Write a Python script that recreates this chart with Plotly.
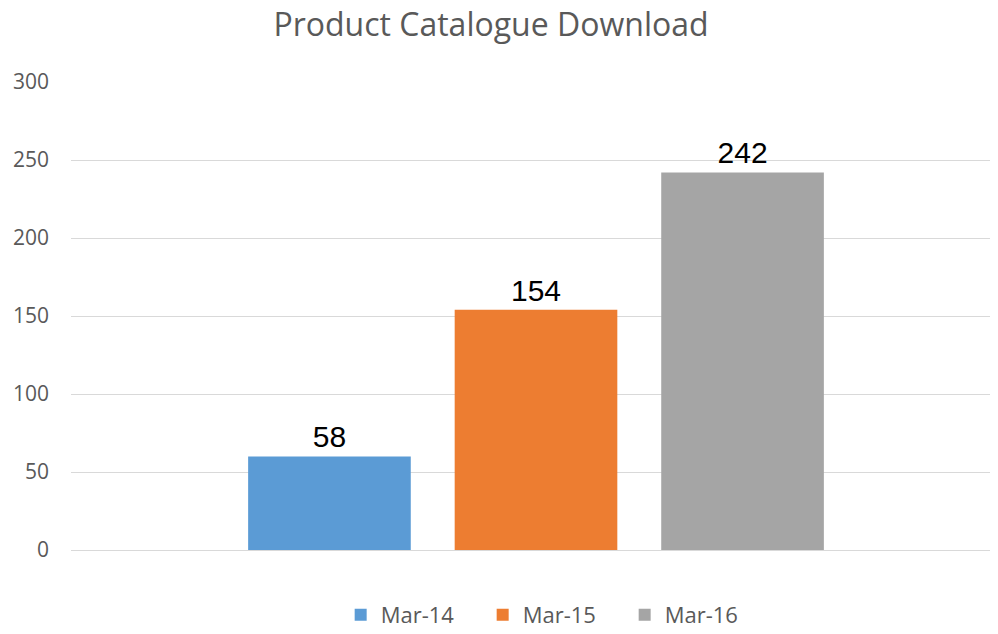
import plotly.graph_objects as go

# Data
periods = ["Mar-14", "Mar-15", "Mar-16"]
downloads = [60, 154, 242]          # bar heights as drawn
label_text = ["58", "154", "242"]   # data labels as printed
colors = ["#5B9BD5", "#ED7D31", "#A5A5A5"]
y_ticks = [0, 50, 100, 150, 200, 250, 300]

fig = go.Figure()
for name, val, lab, col in zip(periods, downloads, label_text, colors):
    fig.add_trace(go.Bar(
        x=["Downloads"],
        y=[val],
        name=name,
        marker=dict(color=col, line=dict(width=0)),
        text=[lab],
        textposition="outside",
        textfont=dict(family="Liberation Sans, Arial", size=30, color="#000000"),
        cliponaxis=False,
    ))

# page body adds ~8px offset, margins compensate
fig.update_layout(
    width=998,
    height=634,
    paper_bgcolor="white",
    plot_bgcolor="white",
    barmode="group",
    bargap=0.3337,
    bargroupgap=0.2126,
    margin=dict(l=61, r=5, t=74, b=92),
    title=dict(
        text="Product Catalogue Download",
        x=483 / 998, xanchor="center",
        y=1 - 17 / 634, yanchor="middle", yref="container",
        font=dict(family="Open Sans", size=32, color="#595959"),
    ),
    xaxis=dict(showticklabels=False, showgrid=False, zeroline=False, showline=False),
    yaxis=dict(
        range=[0, 300],
        tickvals=y_ticks,
        showgrid=True, gridcolor="#D9D9D9", gridwidth=1,
        zeroline=True, zerolinecolor="#D9D9D9", zerolinewidth=1,
        showline=False,
        ticks="",
        ticklabelstandoff=21,
        tickfont=dict(family="Open Sans", size=21, color="#595959"),
    ),
    legend=dict(
        orientation="h",
        x=0.519, xanchor="center",
        y=-65 / 468, yanchor="middle",
        font=dict(family="Open Sans", size=22, color="#595959"),
        itemwidth=30,
        entrywidth=97,
    ),
    showlegend=True,
)

fig.write_html("out.html")
